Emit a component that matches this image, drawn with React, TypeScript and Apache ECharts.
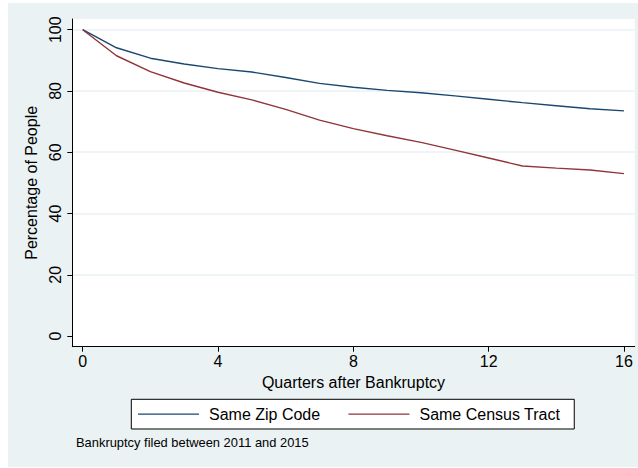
import React, { useEffect, useRef } from "react";
import * as echarts from "echarts";

const quarters = [0, 1, 2, 3, 4, 5, 6, 7, 8, 9, 10, 11, 12, 13, 14, 15, 16];
const sameZipCode = [100, 94.1, 90.7, 88.8, 87.3, 86.2, 84.4, 82.5, 81.2, 80.2, 79.4, 78.4, 77.3, 76.2, 75.2, 74.2, 73.5];
const sameCensusTract = [100, 91.5, 86.3, 82.6, 79.6, 77.1, 74.0, 70.5, 67.7, 65.4, 63.2, 60.7, 58.1, 55.5, 54.8, 54.2, 53.0];
const xTicks = [0, 4, 8, 12, 16];
const yTicks = [0, 20, 40, 60, 80, 100];
const yGridLines = [20, 40, 60, 80, 100];
const seriesNames = ["Same Zip Code", "Same Census Tract"];
const note = "Bankruptcy filed between 2011 and 2015";

const FONT = "'Liberation Sans', Arial, Helvetica, sans-serif";
const BG = "#EAF2F3";
const BLUE = "#1A476F";
const RED = "#90353B";
const Y_MIN = -3.49;
const Y_MAX = 103.5;

export default function App() {
  const ref = useRef<HTMLDivElement>(null);
  useEffect(() => {
    if (!ref.current) return;
    const chart = echarts.init(ref.current, undefined, { renderer: "svg" });
    const zip = quarters.map((q, i) => [q, sameZipCode[i]]);
    const tract = quarters.map((q, i) => [q, sameCensusTract[i]]);
    chart.setOption({
      animation: false,
      backgroundColor: BG,
      textStyle: { fontFamily: FONT },
      grid: {
        left: 64.3,
        right: 3.3,
        top: 16,
        bottom: 120.3,
        show: true,
        backgroundColor: "#ffffff",
        borderWidth: 0,
      },
      xAxis: {
        type: "value",
        min: -0.307,
        max: 16.317,
        axisLine: { show: true, onZero: false, lineStyle: { color: "#000", width: 1 } },
        axisTick: { show: true, length: 5, customValues: xTicks, lineStyle: { color: "#000" } },
        axisLabel: { customValues: xTicks, fontSize: 16, color: "#000", margin: 7, fontFamily: FONT },
        splitLine: { show: false },
        name: "Quarters after Bankruptcy",
        nameLocation: "middle",
        nameGap: 26,
        nameTextStyle: { fontSize: 16, color: "#000", fontFamily: FONT },
      },
      yAxis: [
        {
          type: "value",
          min: Y_MIN,
          max: Y_MAX,
          z: 5,
          axisLine: { show: true, onZero: false, lineStyle: { color: "#000", width: 1 } },
          axisTick: { show: true, length: 5, customValues: yTicks, lineStyle: { color: "#000" } },
          axisLabel: { customValues: yTicks, fontSize: 16, color: "#000", margin: 9, rotate: 90, fontFamily: FONT },
          splitLine: { show: false },
          name: "Percentage of People",
          nameLocation: "middle",
          nameGap: 26,
          nameTextStyle: { fontSize: 16, color: "#000", fontFamily: FONT },
        },
        {
          type: "value",
          min: Y_MIN,
          max: Y_MAX,
          position: "left",
          z: 0,
          axisLine: { show: false },
          axisTick: { show: false, customValues: yGridLines },
          axisLabel: { show: false, customValues: yGridLines },
          splitLine: { show: true, lineStyle: { color: BG, width: 1.5, type: "solid" } },
        },
      ],
      legend: {
        left: 123.3,
        top: 396.3,
        orient: "horizontal",
        data: seriesNames,
        icon: "rect",
        backgroundColor: "#ffffff",
        borderColor: "#000",
        borderWidth: 1,
        borderRadius: 0,
        padding: [6, 14, 6, 6.7],
        itemWidth: 61,
        itemHeight: 1.4,
        itemGap: 28.3,
        selectedMode: false,
        textStyle: { fontSize: 16, color: "#000", fontFamily: FONT, padding: [0, 0, 0, 5], lineHeight: 17.7 },
      },
      graphic: [
        {
          type: "text",
          x: 68,
          y: 439,
          style: {
            text: note,
            fontSize: 12.9,
            fontFamily: FONT,
            fill: "#000",
            verticalAlign: "middle",
          },
        },
      ],
      series: [
        {
          name: seriesNames[0],
          type: "line",
          data: zip,
          symbol: "none",
          z: 3,
          lineStyle: { color: BLUE, width: 1.4 },
          itemStyle: { color: BLUE },
        },
        {
          name: seriesNames[1],
          type: "line",
          data: tract,
          symbol: "none",
          z: 3,
          lineStyle: { color: RED, width: 1.4 },
          itemStyle: { color: RED },
        },
      ],
    });
    return () => chart.dispose();
  }, []);
  return (
    <div
      ref={ref}
      style={{ position: "absolute", left: 8, top: 3, width: 630, height: 464 }}
    />
  );
}
